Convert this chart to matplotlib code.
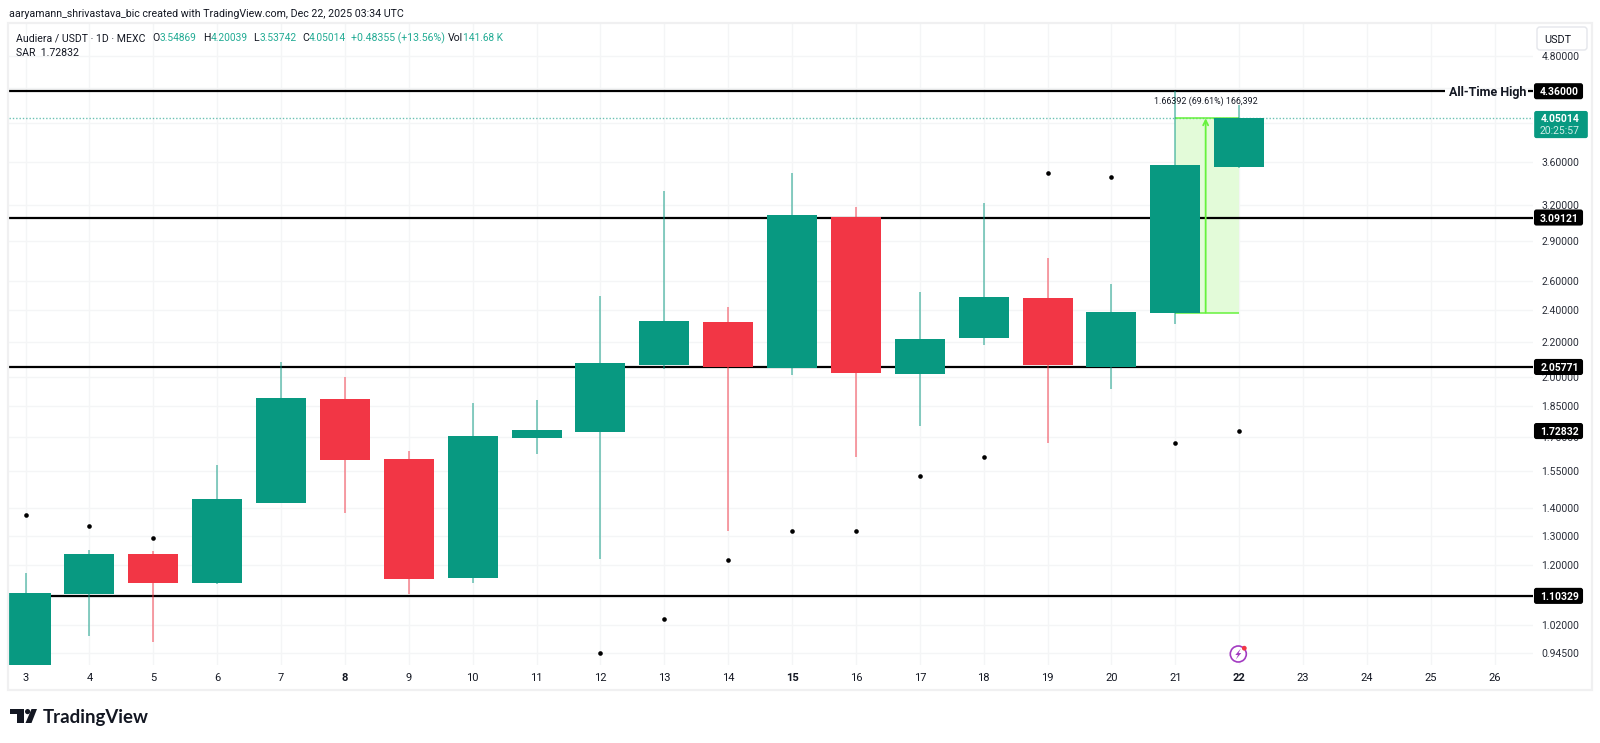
import matplotlib
matplotlib.use("Agg")
import matplotlib.pyplot as plt
from matplotlib.patches import Rectangle, FancyBboxPatch, Circle, Polygon

plt.rcParams['font.family'] = ['Roboto', 'DejaVu Sans']

# daily candles (log price scale)
days = list(range(3, 23))
opens = [0.90, 1.110, 1.236, 1.143, 1.4225, 1.887, 1.601, 1.157, 1.698, 1.726,
         2.069, 2.327, 2.051, 3.097, 2.018, 2.226, 2.482, 2.058, 2.38622, 3.54869]
highs = [1.174, 1.2506, 1.2476, 1.576, 2.085, 2.001, 1.638, 1.865, 1.881, 2.495,
         3.324, 2.423, 3.491, 3.182, 2.525, 3.219, 2.769, 2.578, 4.36, 4.20039]
lows = [0.90, 0.990, 0.972, 1.140, 1.4225, 1.381, 1.109, 1.143, 1.623, 1.219,
        2.045, 1.317, 2.012, 1.612, 1.753, 2.187, 1.675, 1.940, 2.316, 3.53742]
closes = [1.112, 1.236, 1.143, 1.437, 1.890, 1.597, 1.155, 1.706, 1.731, 2.081,
          2.333, 2.058, 3.113, 2.023, 2.223, 2.488, 2.071, 2.389, 3.568, 4.05014]

sar_days = [3, 4, 5, 12, 13, 14, 15, 16, 17, 18, 19, 20, 21, 22]
sar_values = [1.376, 1.333, 1.292, 0.9455, 1.037, 1.217, 1.315, 1.315, 1.531, 1.610,
              3.488, 3.456, 1.672, 1.72832]

levels = [3.09121, 2.05771, 1.10329]
ath = 4.36
last_price = 4.05014
range_low = 2.38622
sar_last = 1.72832

price_ticks = [4.8, 4.4, 4.0, 3.6, 3.2, 2.9, 2.6, 2.4, 2.2, 2.0, 1.85, 1.7, 1.55,
               1.4, 1.3, 1.2, 1.1, 1.02, 0.945]
# these sit fully behind a price label in the original, only the grid line shows
hidden_ticks = [4.4, 4.0, 1.1]
day_ticks = list(range(3, 27))
bold_days = [8, 15, 22]

GREEN = '#089981'
RED = '#F23645'
TEAL_TXT = '#22AB94'
DARK = '#131722'
GRID = '#F4F5F6'

W, H = 1600, 743
fig = plt.figure(figsize=(W / 100, H / 100), dpi=100, facecolor='white')
ax = fig.add_axes([9 / W, 1 - 665 / H, (1533 - 9) / W, (665 - 23) / H])
ax.set_yscale('log')
ax.set_xlim(2.74, 26.60)
ax.set_ylim(0.914, 5.25)

# grid
ax.set_xticks(day_ticks)
ax.set_xticklabels([str(d) for d in day_ticks], fontsize=8, color=DARK)
for lab, d in zip(ax.get_xticklabels(), day_ticks):
    if d in bold_days:
        lab.set_fontweight('bold')
ax.yaxis.tick_right()
ax.set_yticks(price_ticks)
ax.set_yticks([], minor=True)
ax.set_yticklabels(['' if p in hidden_ticks else '%.5f' % p for p in price_ticks],
                   fontsize=7.5, color='#2A2E39')
ax.tick_params(axis='both', length=0, which='both')
ax.tick_params(axis='y', pad=6.2)
ax.tick_params(axis='x', pad=5.6)
ax.grid(True, color=GRID, lw=1.0)
ax.set_axisbelow(True)
for s in ax.spines.values():
    s.set_visible(False)

# horizontal levels
ax.hlines(levels, 2.74, 26.60, color='black', lw=1.6, zorder=2)
ax.hlines(ath, 2.74, 25.22, color='black', lw=1.6, zorder=2)
ax.hlines(ath, 26.52, 26.60, color='black', lw=1.6, zorder=2)
ax.hlines(last_price, 2.74, 26.60, color=GREEN, lw=1, alpha=0.6,
          linestyles=(0, (1, 1.4)), zorder=2)

# price range tool between 21 and 22
ax.fill_between([21, 22], range_low, last_price, color='#E3FBD9', lw=0, zorder=1.5)
ax.hlines([range_low, last_price], 21, 22, color='#66F23C', lw=1.1, zorder=2.2)
ax.annotate('', xy=(21.475, last_price), xytext=(21.475, range_low), zorder=2.3,
            arrowprops=dict(arrowstyle='->', color='#66F23C', lw=1.3, mutation_scale=9,
                            shrinkA=0, shrinkB=0))

# candles
for d, o, h, l, c in zip(days, opens, highs, lows, closes):
    col = GREEN if c >= o else RED
    ax.vlines(d, l, h, color=col, lw=1.1, alpha=0.62, zorder=2.8)
    ax.bar(d, abs(c - o), bottom=min(o, c), width=0.783, color=col, lw=0, zorder=3)

ax.scatter(sar_days, sar_values, s=11, color='black', linewidths=0, zorder=4)

# pixel overlay for labels and decoration
ov = fig.add_axes([0, 0, 1, 1], zorder=5)
ov.set_xlim(0, W)
ov.set_ylim(H, 0)
ov.axis('off')
ov.patch.set_alpha(0)


def py(price):
    return H - ax.transData.transform((3, price))[1]


def px(day):
    return ax.transData.transform((day, 1))[0]


def price_label(price, text):
    y = py(price)
    ov.add_patch(FancyBboxPatch((1535, y - 7), 47, 14, boxstyle='round,pad=0,rounding_size=1.5',
                                fc='black', ec='black', lw=1.5))
    ov.text(1559.5, y, text, color='white', fontsize=7.5, fontweight='bold',
            ha='center', va='center_baseline')


# frame around the chart
ov.add_patch(Rectangle((8, 23), 1584, 667, fc='none', ec='#F0F0F1', lw=1.6))

for p, t in [(ath, '4.36000'), (levels[0], '3.09121'), (levels[1], '2.05771'),
             (levels[2], '1.10329'), (sar_last, '1.72832')]:
    price_label(p, t)

ov.text(1449, py(ath), 'All-Time High', fontsize=9.0, fontweight='bold', color=DARK,
        ha='left', va='center_baseline')
ov.text(px(21.475), 101, '1.66392 (69.61%) 166,392', fontsize=6.4, color=DARK,
        ha='center', va='center')

# last price box
y0 = py(last_price)
ov.add_patch(FancyBboxPatch((1535, y0 - 6.5), 52, 25.5, boxstyle='round,pad=0,rounding_size=1.5',
                            fc=GREEN, ec=GREEN, lw=1.2))
ov.text(1560, y0, '4.05014', color='white', fontsize=7.5, fontweight='bold',
        ha='center', va='center_baseline')
ov.text(1560, y0 + 12, '20:25:57', color='#CFEDE7', fontsize=7.5,
        ha='center', va='center_baseline')

# currency button
ov.add_patch(FancyBboxPatch((1537, 27), 50, 23, boxstyle='round,pad=0,rounding_size=3',
                            fc='white', ec='#E4E6EB', lw=1))
ov.text(1544, 39, 'USDT', fontsize=7.8, color=DARK, ha='left', va='center_baseline')

# header
ov.text(9, 13, 'aaryamann_shrivastava_bic created with TradingView.com, Dec 22, 2025 03:34 UTC',
        fontsize=7.65, color=DARK, ha='left', va='center_baseline')
legend = [(16, 'Audiera / USDT · 1D · MEXC', DARK), (152, 'O', DARK), (159.5, '3.54869', TEAL_TXT),
          (203, 'H', DARK), (210.5, '4.20039', TEAL_TXT), (253, 'L', DARK), (259.5, '3.53742', TEAL_TXT),
          (302, 'C', DARK), (308.5, '4.05014', TEAL_TXT), (351, '+0.48355 (+13.56%)', TEAL_TXT),
          (448, 'Vol', DARK), (463, '141.68 K', TEAL_TXT)]
for x, t, c in legend:
    fs = 7.3 if t[0].isdigit() else 7.6
    ov.text(x, 37, t, fontsize=fs, color=c, ha='left', va='center_baseline')
ov.text(16, 52, 'SAR  1.72832', fontsize=7.6, color=DARK, ha='left', va='center_baseline')

# logo
ov.add_patch(Polygon([(10, 709), (24, 709), (24, 723), (17, 723), (17, 714), (10, 714)],
                     fc='#131722', ec='none'))
ov.add_patch(Circle((27.6, 711.6), 2.6, fc='#131722', ec='none'))
ov.add_patch(Polygon([(31.5, 709), (37, 709), (31.5, 723), (25.5, 723)], fc='#131722', ec='none'))
ov.text(43, 716.5, 'TradingView', fontsize=13.4, fontweight='bold', family='Lato',
        color='#131722', ha='left', va='center_baseline')

# news icon
bx, by = 1238.3, 654
ov.add_patch(Circle((bx, by), 8, fc='white', ec='#A33BC2', lw=1.2))
ov.add_patch(Polygon([(bx + 2.5, by - 5.5), (bx - 3, by + 1), (bx - 0.3, by + 1), (bx - 2.5, by + 5.5),
                      (bx + 3, by - 1), (bx + 0.3, by - 1)], fc='#A33BC2', ec='none'))
ov.add_patch(Circle((bx + 6, by - 5.8), 2.4, fc='#F23645', ec='none'))

fig.savefig('out.png', dpi=100)
